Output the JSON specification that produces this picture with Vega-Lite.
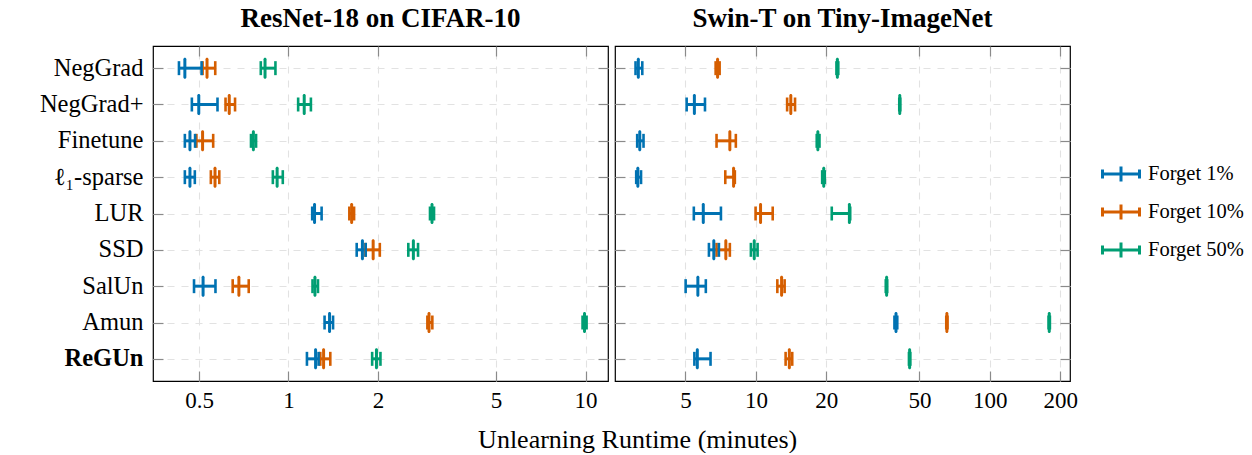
{
  "$schema": "https://vega.github.io/schema/vega-lite/v6.json",
  "background": "white",
  "padding": {"left": 5, "top": 4, "right": 5, "bottom": 0},
  "config": {
    "font": "Liberation Serif",
    "view": {"stroke": "black", "strokeWidth": 1.2},
    "axis": {"labelFont": "Liberation Serif", "labelColor": "black", "tickColor": "#8a8a8a", "tickWidth": 1.2, "gridColor": "#e2e2e2", "gridDash": [7, 7], "gridWidth": 1.1, "domain": false, "minExtent": 0},
    "title": {"font": "Liberation Serif", "fontSize": 27, "fontWeight": "bold", "color": "black", "offset": 12, "anchor": "middle"},
    "tick": {"opacity": 1},
    "rule": {"opacity": 1}
  },
  "title": {"text": "Unlearning Runtime (minutes)", "orient": "bottom", "anchor": "middle", "fontSize": 26, "fontWeight": "normal", "offset": 14, "dx": 13},
  "datasets": {
    "resnet": [
      {"method": "NegGrad", "series": "Forget 1%", "low": 0.428, "mid": 0.448, "high": 0.51},
      {"method": "NegGrad", "series": "Forget 10%", "low": 0.514, "mid": 0.532, "high": 0.567},
      {"method": "NegGrad", "series": "Forget 50%", "low": 0.807, "mid": 0.834, "high": 0.904},
      {"method": "NegGrad+", "series": "Forget 1%", "low": 0.473, "mid": 0.499, "high": 0.577},
      {"method": "NegGrad+", "series": "Forget 10%", "low": 0.614, "mid": 0.632, "high": 0.661},
      {"method": "NegGrad+", "series": "Forget 50%", "low": 1.078, "mid": 1.13, "high": 1.19},
      {"method": "Finetune", "series": "Forget 1%", "low": 0.448, "mid": 0.466, "high": 0.485},
      {"method": "Finetune", "series": "Forget 10%", "low": 0.49, "mid": 0.514, "high": 0.558},
      {"method": "Finetune", "series": "Forget 50%", "low": 0.748, "mid": 0.762, "high": 0.778},
      {"method": "ℓ₁-sparse", "series": "Forget 1%", "low": 0.448, "mid": 0.466, "high": 0.484},
      {"method": "ℓ₁-sparse", "series": "Forget 10%", "low": 0.548, "mid": 0.566, "high": 0.585},
      {"method": "ℓ₁-sparse", "series": "Forget 50%", "low": 0.886, "mid": 0.916, "high": 0.957},
      {"method": "LUR", "series": "Forget 1%", "low": 1.202, "mid": 1.224, "high": 1.293},
      {"method": "LUR", "series": "Forget 10%", "low": 1.603, "mid": 1.632, "high": 1.663},
      {"method": "LUR", "series": "Forget 50%", "low": 2.995, "mid": 3.042, "high": 3.09},
      {"method": "SSD", "series": "Forget 1%", "low": 1.697, "mid": 1.774, "high": 1.82},
      {"method": "SSD", "series": "Forget 10%", "low": 1.816, "mid": 1.928, "high": 2.03},
      {"method": "SSD", "series": "Forget 50%", "low": 2.532, "mid": 2.633, "high": 2.73},
      {"method": "SalUn", "series": "Forget 1%", "low": 0.481, "mid": 0.516, "high": 0.568},
      {"method": "SalUn", "series": "Forget 10%", "low": 0.649, "mid": 0.681, "high": 0.735},
      {"method": "SalUn", "series": "Forget 50%", "low": 1.205, "mid": 1.228, "high": 1.257},
      {"method": "Amun", "series": "Forget 1%", "low": 1.323, "mid": 1.375, "high": 1.413},
      {"method": "Amun", "series": "Forget 10%", "low": 2.935, "mid": 2.972, "high": 3.05},
      {"method": "Amun", "series": "Forget 50%", "low": 9.77, "mid": 9.92, "high": 10.08},
      {"method": "ReGUn", "series": "Forget 1%", "low": 1.154, "mid": 1.234, "high": 1.263},
      {"method": "ReGUn", "series": "Forget 10%", "low": 1.28, "mid": 1.313, "high": 1.383},
      {"method": "ReGUn", "series": "Forget 50%", "low": 1.913, "mid": 1.978, "high": 2.04}
    ],
    "swin": [
      {"method": "NegGrad", "series": "Forget 1%", "low": 3.06, "mid": 3.145, "high": 3.27},
      {"method": "NegGrad", "series": "Forget 10%", "low": 6.73, "mid": 6.86, "high": 7.0},
      {"method": "NegGrad", "series": "Forget 50%", "low": 22.1, "mid": 22.3, "high": 22.5},
      {"method": "NegGrad+", "series": "Forget 1%", "low": 5.06, "mid": 5.46, "high": 6.06},
      {"method": "NegGrad+", "series": "Forget 10%", "low": 13.6, "mid": 14.1, "high": 14.7},
      {"method": "NegGrad+", "series": "Forget 50%", "low": 41.0, "mid": 41.2, "high": 41.4},
      {"method": "Finetune", "series": "Forget 1%", "low": 3.11, "mid": 3.19, "high": 3.31},
      {"method": "Finetune", "series": "Forget 10%", "low": 6.79, "mid": 7.74, "high": 8.21},
      {"method": "Finetune", "series": "Forget 50%", "low": 18.2, "mid": 18.4, "high": 18.7},
      {"method": "ℓ₁-sparse", "series": "Forget 1%", "low": 3.08, "mid": 3.13, "high": 3.23},
      {"method": "ℓ₁-sparse", "series": "Forget 10%", "low": 7.4, "mid": 8.03, "high": 8.13},
      {"method": "ℓ₁-sparse", "series": "Forget 50%", "low": 19.2, "mid": 19.5, "high": 19.7},
      {"method": "LUR", "series": "Forget 1%", "low": 5.43, "mid": 5.96, "high": 7.09},
      {"method": "LUR", "series": "Forget 10%", "low": 9.97, "mid": 10.47, "high": 11.8},
      {"method": "LUR", "series": "Forget 50%", "low": 21.1, "mid": 25.1, "high": 25.3},
      {"method": "SSD", "series": "Forget 1%", "low": 6.3, "mid": 6.61, "high": 6.95},
      {"method": "SSD", "series": "Forget 10%", "low": 6.79, "mid": 7.44, "high": 7.74},
      {"method": "SSD", "series": "Forget 50%", "low": 9.52, "mid": 9.84, "high": 10.17},
      {"method": "SalUn", "series": "Forget 1%", "low": 5.01, "mid": 5.65, "high": 6.11},
      {"method": "SalUn", "series": "Forget 10%", "low": 12.35, "mid": 12.88, "high": 13.27},
      {"method": "SalUn", "series": "Forget 50%", "low": 35.9, "mid": 36.2, "high": 36.4},
      {"method": "Amun", "series": "Forget 1%", "low": 39.1, "mid": 39.7, "high": 40.2},
      {"method": "Amun", "series": "Forget 10%", "low": 65.1, "mid": 65.5, "high": 65.9},
      {"method": "Amun", "series": "Forget 50%", "low": 178.2, "mid": 179.4, "high": 180.5},
      {"method": "ReGUn", "series": "Forget 1%", "low": 5.46, "mid": 5.62, "high": 6.4},
      {"method": "ReGUn", "series": "Forget 10%", "low": 13.4, "mid": 13.9, "high": 14.3},
      {"method": "ReGUn", "series": "Forget 50%", "low": 45.1, "mid": 45.4, "high": 45.7}
    ]
  },
  "spacing": 3,
  "resolve": {"scale": {"x": "independent", "y": "independent", "color": "shared"}, "legend": {"color": "shared"}},
  "hconcat": [
    {
      "width": 455,
      "height": 335,
      "title": {"text": "ResNet-18 on CIFAR-10"},
      "data": {"name": "resnet"},
      "encoding": {
        "color": {"field": "series", "type": "nominal", "scale": {"domain": ["Forget 1%", "Forget 10%", "Forget 50%"], "range": ["#0072B2", "#D55E00", "#009E73"]},
          "legend": {"orient": "none", "legendX": 948, "legendY": 108, "title": null, "symbolType": "M-1,0H1M-1,-0.24V0.24M1,-0.24V0.24M0,-0.4V0.4", "symbolSize": 1369, "symbolStrokeWidth": 3, "symbolOpacity": 1, "labelFont": "Liberation Serif", "labelFontSize": 20.5, "labelColor": "black", "labelOffset": 7, "rowPadding": 4}}
      },
      "layer": [
        {
          "mark": {"type": "rule", "strokeWidth": 3, "opacity": 1},
          "encoding": {
            "x": {"field": "low", "type": "quantitative", "scale": {"type": "log", "domain": [0.35, 11.9], "nice": false},
              "axis": {"orient": "bottom", "values": [0.5, 1, 2, 5, 10], "format": "~g", "title": null, "grid": true, "tickSize": -10, "labelPadding": 18, "labelFlush": false, "labelFontSize": 23}},
            "x2": {"field": "high"},
            "y": {"field": "method", "type": "nominal", "sort": null, "scale": {"type": "point", "padding": 0.61, "domain": ["NegGrad", "NegGrad+", "Finetune", "ℓ₁-sparse", "LUR", "SSD", "SalUn", "Amun", "ReGUn"]},
              "axis": {"orient": "left", "title": null, "grid": true, "tickSize": -10, "labelPadding": 20, "minExtent": 147, "labelFontSize": 24.5, "labelFontWeight": {"condition": {"test": "datum.value === 'ReGUn'", "value": "bold"}, "value": "normal"}}}
          }
        },
        {
          "mark": {"type": "tick", "thickness": 2.6, "size": 14, "opacity": 1},
          "encoding": {
            "x": {"field": "low", "type": "quantitative", "axis": {"orient": "top", "values": [0.5, 1, 2, 5, 10], "labels": false, "grid": false, "tickSize": -10, "title": null}},
            "y": {"field": "method", "type": "nominal", "sort": null, "axis": {"orient": "right", "labels": false, "grid": false, "tickSize": -10, "title": null}}
          }
        },
        {
          "mark": {"type": "tick", "thickness": 2.6, "size": 14, "opacity": 1},
          "encoding": {
            "x": {"field": "high", "type": "quantitative", "axis": null},
            "y": {"field": "method", "type": "nominal", "sort": null, "axis": null}
          }
        },
        {
          "mark": {"type": "tick", "thickness": 3, "size": 21, "cornerRadius": 1.5, "opacity": 1},
          "encoding": {
            "x": {"field": "mid", "type": "quantitative", "axis": null},
            "y": {"field": "method", "type": "nominal", "sort": null, "axis": null}
          }
        }
      ],
      "resolve": {"axis": {"x": "independent", "y": "independent"}}
    },
    {
      "width": 455,
      "height": 335,
      "title": {"text": "Swin-T on Tiny-ImageNet"},
      "data": {"name": "swin"},
      "encoding": {
        "color": {"field": "series", "type": "nominal", "scale": {"domain": ["Forget 1%", "Forget 10%", "Forget 50%"], "range": ["#0072B2", "#D55E00", "#009E73"]},
          "legend": {"orient": "none", "legendX": 948, "legendY": 108, "title": null, "symbolType": "M-1,0H1M-1,-0.24V0.24M1,-0.24V0.24M0,-0.4V0.4", "symbolSize": 1369, "symbolStrokeWidth": 3, "symbolOpacity": 1, "labelFont": "Liberation Serif", "labelFontSize": 20.5, "labelColor": "black", "labelOffset": 7, "rowPadding": 4}}
      },
      "layer": [
        {
          "mark": {"type": "rule", "strokeWidth": 3, "opacity": 1},
          "encoding": {
            "x": {"field": "low", "type": "quantitative", "scale": {"type": "log", "domain": [2.5, 220], "nice": false},
              "axis": {"orient": "bottom", "values": [5, 10, 20, 50, 100, 200], "format": "~g", "title": null, "grid": true, "tickSize": -10, "labelPadding": 18, "labelFlush": false, "labelFontSize": 23}},
            "x2": {"field": "high"},
            "y": {"field": "method", "type": "nominal", "sort": null, "scale": {"type": "point", "padding": 0.61, "domain": ["NegGrad", "NegGrad+", "Finetune", "ℓ₁-sparse", "LUR", "SSD", "SalUn", "Amun", "ReGUn"]},
              "axis": {"orient": "left", "title": null, "grid": true, "labels": false, "tickSize": -10, "minExtent": 0}}
          }
        },
        {
          "mark": {"type": "tick", "thickness": 2.6, "size": 14, "opacity": 1},
          "encoding": {
            "x": {"field": "low", "type": "quantitative", "axis": {"orient": "top", "values": [5, 10, 20, 50, 100, 200], "labels": false, "grid": false, "tickSize": -10, "title": null}},
            "y": {"field": "method", "type": "nominal", "sort": null, "axis": {"orient": "right", "labels": false, "grid": false, "tickSize": -10, "title": null}}
          }
        },
        {
          "mark": {"type": "tick", "thickness": 2.6, "size": 14, "opacity": 1},
          "encoding": {
            "x": {"field": "high", "type": "quantitative", "axis": null},
            "y": {"field": "method", "type": "nominal", "sort": null, "axis": null}
          }
        },
        {
          "mark": {"type": "tick", "thickness": 3, "size": 21, "cornerRadius": 1.5, "opacity": 1},
          "encoding": {
            "x": {"field": "mid", "type": "quantitative", "axis": null},
            "y": {"field": "method", "type": "nominal", "sort": null, "axis": null}
          }
        }
      ],
      "resolve": {"axis": {"x": "independent", "y": "independent"}}
    }
  ]
}
